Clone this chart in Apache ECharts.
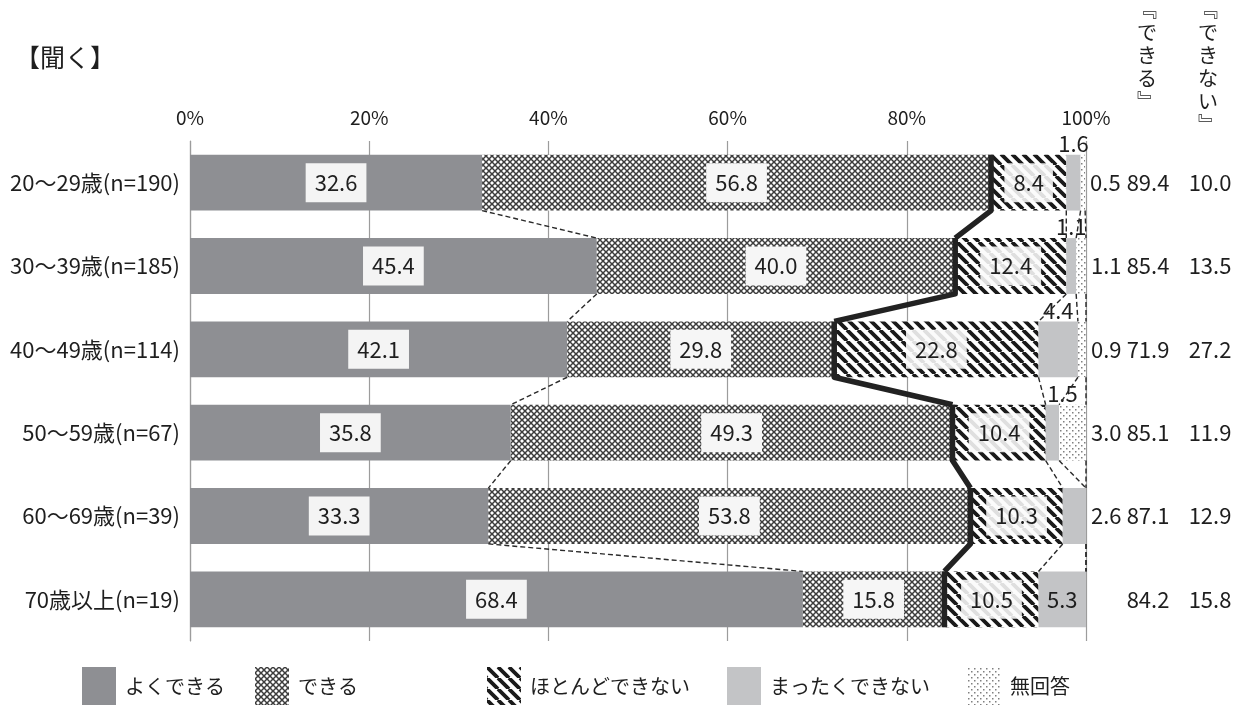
<!DOCTYPE html>
<html>
<head>
<meta charset="utf-8">
<script src="https://cdn.jsdelivr.net/npm/echarts@6/dist/echarts.min.js"></script>
<style>
html,body{margin:0;padding:0;background:#fff;}
#chart{width:1248px;height:706px;}
</style>
</head>
<body>
<div id="chart"></div>
<script>
// ---- data ----
const categories = ['20〜29歳(n=190)', '30〜39歳(n=185)', '40〜49歳(n=114)', '50〜59歳(n=67)', '60〜69歳(n=39)', '70歳以上(n=19)'];
const seriesNames = ['よくできる', 'できる', 'ほとんどできない', 'まったくできない', '無回答'];
const yokuDekiru = [32.6, 45.4, 42.1, 35.8, 33.3, 68.4];
const dekiru = [56.8, 40.0, 29.8, 49.3, 53.8, 15.8];
const hotondo = [8.4, 12.4, 22.8, 10.4, 10.3, 10.5];
const mattaku = [1.6, 1.1, 4.4, 1.5, 2.6, 5.3];
const muKaito = [0.5, 1.1, 0.9, 3.0, 0, 0];
const totalDekiru = [89.4, 85.4, 71.9, 85.1, 87.1, 84.2];
const totalDekinai = [10.0, 13.5, 27.2, 11.9, 12.9, 15.8];
const headerDekiru = '『できる』';
const headerDekinai = '『できない』';
const titleText = '【聞く】';

// ---- styles ----
const FONT = "'Liberation Sans Narrow','Noto Sans CJK JP',sans-serif";
const CJK = "'Noto Sans CJK JP',sans-serif";
const mattakuLabelPos = ['top', 'top', 'top', 'top', 'right', 'inside'];
const mattakuLabelShift = [0, 0, 0, 10, 0, 0];

function makePattern(size, draw) {
  const c = document.createElement('canvas');
  c.width = size; c.height = size;
  const ctx = c.getContext('2d');
  draw(ctx, size);
  return { image: c, repeat: 'repeat' };
}
const patCross = makePattern(6, (ctx, s) => {
  ctx.fillStyle = '#ffffff'; ctx.fillRect(0, 0, s, s);
  ctx.strokeStyle = '#3c3c3c'; ctx.lineWidth = 1.5;
  ctx.beginPath();
  ctx.moveTo(0, 0); ctx.lineTo(s, s);
  ctx.moveTo(s, 0); ctx.lineTo(0, s);
  ctx.stroke();
});
const patStripe = makePattern(11, (ctx, s) => {
  ctx.fillStyle = '#ffffff'; ctx.fillRect(0, 0, s, s);
  ctx.strokeStyle = '#1a1a1a'; ctx.lineWidth = 3.8;
  ctx.beginPath();
  ctx.moveTo(0, 0); ctx.lineTo(s, s);
  ctx.moveTo(-s, 0); ctx.lineTo(0, s);
  ctx.moveTo(s, 0); ctx.lineTo(2 * s, s);
  ctx.stroke();
});
const patDots = makePattern(6, (ctx, s) => {
  ctx.fillStyle = '#ffffff'; ctx.fillRect(0, 0, s, s);
  ctx.fillStyle = '#808080';
  ctx.fillRect(1, 1, 1.5, 1.5);
  ctx.fillRect(4, 4, 1.5, 1.5);
});
const fills = ['#8e8f93', patCross, patStripe, '#c3c4c6', patDots];

const boxLabel = (bg) => ({
  show: true, position: 'inside', color: '#1e1e1e', fontSize: 22, fontFamily: FONT,
  backgroundColor: bg, padding: [9, 9, 8, 9],
  formatter: p => p.value.toFixed(1)
});
const plainLabel = {
  show: true, color: '#1e1e1e', fontSize: 22, fontFamily: FONT, distance: 1,
  formatter: p => (p.value > 0 ? p.value.toFixed(1) : '')
};

// cumulative boundaries
const n = categories.length;
const cum1 = yokuDekiru.map(v => v);
const cum2 = cum1.map((v, i) => v + dekiru[i]);
const cum3 = cum2.map((v, i) => v + hotondo[i]);
const cum4 = cum3.map((v, i) => v + mattaku[i]);
const cum5 = cum4.map((v, i) => v + muKaito[i]);

const BAR_RATIO = 0.67;
function lineSeries(cum, style, withVertical) {
  return {
    type: 'custom',
    z: 5,
    silent: true,
    clip: false,
    encode: { x: [0, 2], y: 1 },
    data: cum.map((v, i) => [v, i, i < n - 1 ? cum[i + 1] : v]),
    renderItem: (params, api) => {
      const i = api.value(1);
      const cur = api.coord([api.value(0), i]);
      const h = api.size([0, 1])[1] * BAR_RATIO / 2;
      const pts = [];
      if (withVertical) pts.push([cur[0], cur[1] - h]);
      pts.push([cur[0], cur[1] + h]);
      if (i < n - 1) {
        const nx = api.coord([api.value(2), i + 1]);
        pts.push([nx[0], nx[1] - h]);
      }
      if (pts.length < 2) return null;
      return { type: 'polyline', shape: { points: pts }, style: Object.assign({ fill: null }, style) };
    }
  };
}

const dashStyle = { stroke: '#2a2a2a', lineWidth: 1.4, lineDash: [5, 3] };

const barSeries = [yokuDekiru, dekiru, hotondo, mattaku, muKaito].map((arr, k) => {
  const s = {
    name: seriesNames[k], type: 'bar', stack: 'all', barWidth: (BAR_RATIO * 100) + '%',
    itemStyle: { color: fills[k] },
    data: arr.slice()
  };
  if (k === 0) s.label = boxLabel('#f4f4f4');
  if (k === 1) s.label = boxLabel('#f6f6f6');
  if (k === 2) s.label = boxLabel('rgba(250,250,250,0.88)');
  if (k === 3) {
    s.label = plainLabel;
    s.data = arr.map((v, i) => ({
      value: v,
      label: {
        position: mattakuLabelPos[i],
        distance: mattakuLabelPos[i] === 'right' ? 5 : 0,
        offset: [mattakuLabelShift[i], 0]
      }
    }));
  }
  if (k === 4) s.label = Object.assign({}, plainLabel, { position: 'right', distance: 5 });
  return s;
});

const legendLefts = [82, 255, 487, 727, 967];
const legends = seriesNames.map((nm, k) => ({
  data: [nm], left: legendLefts[k], top: 667, padding: 0, itemWidth: 34, itemHeight: 38, icon: 'rect',
  selectedMode: false,
  textStyle: { fontSize: 20, fontFamily: CJK, color: '#1e1e1e', padding: [0, 0, 0, 4] }
}));

const vert = s => Array.from(s.replace('『', '﹃').replace('』', '﹄')).join('\n');

const chart = echarts.init(document.getElementById('chart'), null, { renderer: 'canvas' });
chart.setOption({
  animation: false,
  backgroundColor: '#ffffff',
  title: [
    { text: titleText, left: 10, top: 40, textStyle: { fontSize: 25, fontWeight: 'normal', fontFamily: CJK, color: '#1e1e1e' } },
    { text: vert(headerDekiru), left: 1137, top: -2, padding: 0, textStyle: { fontSize: 20, fontWeight: 'normal', fontFamily: CJK, color: '#1e1e1e', lineHeight: 23 } },
    { text: vert(headerDekinai), left: 1198, top: -2, padding: 0, textStyle: { fontSize: 20, fontWeight: 'normal', fontFamily: CJK, color: '#1e1e1e', lineHeight: 23 } }
  ],
  legend: legends,
  grid: { left: 190, right: 162, top: 141, bottom: 65, containLabel: false },
  xAxis: {
    type: 'value', position: 'top', min: 0, max: 100, interval: 20,
    axisLine: { show: false }, axisTick: { show: false },
    splitLine: { show: true, lineStyle: { color: '#9c9c9c', width: 1.2 } },
    axisLabel: { formatter: '{value}%', fontSize: 19, fontFamily: FONT, color: '#1e1e1e', margin: 14 }
  },
  yAxis: [
    {
      type: 'category', data: categories, inverse: true,
      axisLine: { show: true, lineStyle: { color: '#9c9c9c', width: 1.2 } },
      axisTick: { show: false },
      axisLabel: { fontSize: 22, fontFamily: FONT, color: '#1e1e1e', margin: 10 }
    },
    {
      type: 'category', data: categories, inverse: true, position: 'right',
      axisLine: { show: false }, axisTick: { show: false },
      axisLabel: {
        margin: 42, align: 'left',
        formatter: (v, i) => '{a|' + totalDekiru[i].toFixed(1) + '}{s|}{b|' + totalDekinai[i].toFixed(1) + '}',
        rich: {
          a: { width: 40, align: 'center', fontSize: 22, fontFamily: FONT, color: '#1e1e1e' },
          s: { width: 22 },
          b: { width: 40, align: 'center', fontSize: 22, fontFamily: FONT, color: '#1e1e1e' }
        }
      }
    }
  ],
  series: barSeries.concat([
    lineSeries(cum1, dashStyle, false),
    lineSeries(cum3, dashStyle, false),
    lineSeries(cum4, dashStyle, false),
    lineSeries(cum5, dashStyle, false),
    lineSeries(cum2, { stroke: '#222222', lineWidth: 5.5, lineJoin: 'round' }, true)
  ])
});
</script>
</body>
</html>
